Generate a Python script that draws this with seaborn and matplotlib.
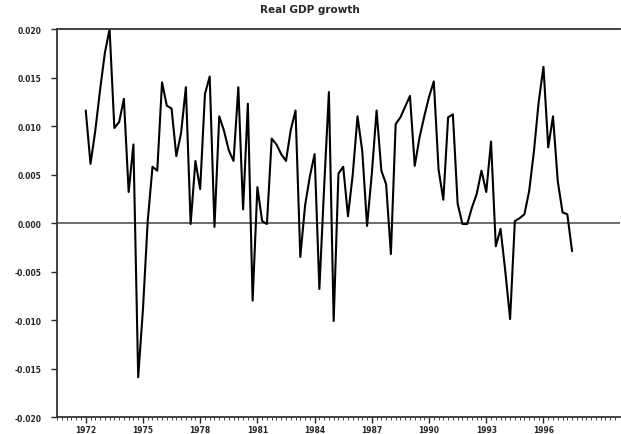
import numpy as np
import pandas as pd
import matplotlib
matplotlib.use("Agg")
import matplotlib.pyplot as plt
import seaborn as sns

# quarterly real GDP growth, 1972Q1 onwards
start_year = 1972
growth = [
    0.0116, 0.0061, 0.0095, 0.0137, 0.0175, 0.0200, 0.0098, 0.0104, 0.0128, 0.0032,
    0.0081, -0.0159, -0.0089, 0.0002, 0.0058, 0.0054, 0.0145, 0.0121, 0.0118, 0.0069,
    0.0093, 0.0140, -0.0001, 0.0064, 0.0035, 0.0133, 0.0151, -0.0004, 0.0110, 0.0095,
    0.0075, 0.0064, 0.0140, 0.0014, 0.0123, -0.0080, 0.0037, 0.0002, -0.0001, 0.0087,
    0.0081, 0.0071, 0.0064, 0.0096, 0.0116, -0.0035, 0.0018, 0.0048, 0.0071, -0.0068,
    0.0037, 0.0135, -0.0101, 0.0051, 0.0058, 0.0007, 0.0050, 0.0110, 0.0074, -0.0003,
    0.0051, 0.0116, 0.0054, 0.0040, -0.0032, 0.0102, 0.0109, 0.0120, 0.0131, 0.0059,
    0.0088, 0.0110, 0.0130, 0.0146, 0.0055, 0.0024, 0.0109, 0.0112, 0.0020, -0.0001,
    -0.0001, 0.0016, 0.0030, 0.0054, 0.0032, 0.0084, -0.0024, -0.0006, -0.0050, -0.0099,
    0.0002, 0.0005, 0.0009, 0.0033, 0.0074, 0.0125, 0.0161, 0.0078, 0.0110, 0.0043,
    0.0011, 0.0009, -0.0029,
]
year_ticks = [1972, 1975, 1978, 1981, 1984, 1987, 1990, 1993, 1996]
y_ticks = [0.020, 0.015, 0.010, 0.005, 0.000, -0.005, -0.010, -0.015, -0.020]

df = pd.DataFrame({
    "date": start_year + np.arange(len(growth)) / 4.0,
    "growth": growth,
})

sns.set_style("ticks")
plt.rcParams["font.family"] = ["DejaVu Sans"]

fig = plt.figure(figsize=(6.21, 4.35), dpi=100)
ax = fig.add_axes([0.092, 0.039, 0.906, 0.892])

ax.axhline(0, color="#555555", linewidth=1.2, zorder=1)
sns.lineplot(data=df, x="date", y="growth", ax=ax, color="black", linewidth=1.5)

ax.set_xlim(1970.5, 2000)
ax.set_ylim(-0.020, 0.020)
ax.set_xticks(year_ticks)
ax.set_xticklabels([str(y) for y in year_ticks], fontsize=5.5, fontweight="bold")
ax.set_xticks(np.arange(1970.5, 2000, 0.25), minor=True)
ax.set_yticks(y_ticks)
ax.set_yticklabels([f"{v:.3f}" for v in y_ticks], fontsize=5.5, fontweight="bold")
ax.tick_params(axis="y", direction="out", length=4, width=1, pad=7)
ax.tick_params(axis="x", direction="out", length=4, width=1, pad=2)
ax.tick_params(axis="x", which="minor", direction="out", length=2, width=0.6)
ax.set_xlabel("")
ax.set_ylabel("")

ax.spines["right"].set_visible(False)
for side in ["top", "left", "bottom"]:
    ax.spines[side].set_color("#333333")
    ax.spines[side].set_linewidth(1.3)

# title sits over the middle of the page, not the middle of the axes
ax.set_title("Real GDP growth", fontsize=7.5, fontweight="bold", pad=12, x=0.45)

fig.savefig("out.png", dpi=100)
